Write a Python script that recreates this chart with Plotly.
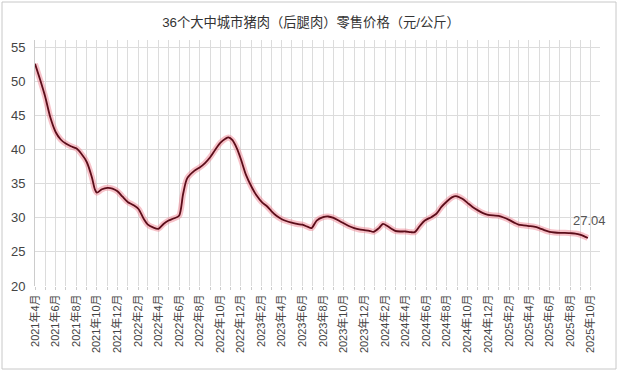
import plotly.graph_objects as go

dates = [
    "2021-04-01", "2021-04-16", "2021-05-01", "2021-05-16", "2021-06-01", "2021-06-16",
    "2021-07-01", "2021-07-16", "2021-08-01", "2021-08-16", "2021-09-01", "2021-09-16",
    "2021-09-25", "2021-10-01", "2021-10-16", "2021-11-01", "2021-11-16", "2021-12-01",
    "2021-12-16", "2022-01-01", "2022-01-16", "2022-02-01", "2022-02-16", "2022-03-01",
    "2022-03-16", "2022-04-01", "2022-04-16", "2022-05-01", "2022-05-16", "2022-06-01",
    "2022-06-13", "2022-06-25", "2022-07-16", "2022-08-01", "2022-08-16", "2022-09-01",
    "2022-09-16", "2022-10-01", "2022-10-16", "2022-10-25", "2022-11-06", "2022-11-19",
    "2022-12-01", "2022-12-16", "2023-01-01", "2023-01-16", "2023-02-01", "2023-02-16",
    "2023-03-01", "2023-03-16", "2023-04-01", "2023-04-16", "2023-05-01", "2023-05-16",
    "2023-06-01", "2023-06-16", "2023-06-28", "2023-07-13", "2023-08-01", "2023-08-16",
    "2023-09-01", "2023-09-16", "2023-10-01", "2023-10-16", "2023-11-01", "2023-11-16",
    "2023-12-01", "2023-12-16", "2023-12-28", "2024-01-13", "2024-01-25", "2024-02-07",
    "2024-02-19", "2024-03-01", "2024-03-16", "2024-04-01", "2024-04-16", "2024-04-28",
    "2024-05-13", "2024-05-28", "2024-06-16", "2024-07-01", "2024-07-16", "2024-08-01",
    "2024-08-16", "2024-08-28", "2024-09-16", "2024-10-01", "2024-10-16", "2024-11-01",
    "2024-11-16", "2024-12-01", "2024-12-16", "2025-01-01", "2025-01-16", "2025-02-01",
    "2025-02-16", "2025-03-01", "2025-03-16", "2025-04-01", "2025-04-16", "2025-05-01",
    "2025-05-16", "2025-06-01", "2025-06-16", "2025-07-01", "2025-07-16", "2025-08-01",
    "2025-08-16", "2025-09-01", "2025-09-13", "2025-09-22",
]
prices = [
    52.6, 50.3, 47.8, 44.8, 42.6, 41.5,
    40.9, 40.5, 40.2, 39.4, 38.2, 36.0,
    34.2, 33.7, 34.2, 34.4, 34.3, 33.9,
    33.1, 32.3, 31.9, 31.3, 29.9, 29.0,
    28.6, 28.4, 29.1, 29.6, 29.9, 30.3,
    33.5, 35.8, 36.9, 37.4, 38.0, 38.9,
    40.0, 41.0, 41.6, 41.8, 41.4, 40.2,
    38.6, 36.3, 34.6, 33.3, 32.3, 31.7,
    31.0, 30.3, 29.8, 29.5, 29.3, 29.1,
    29.0, 28.7, 28.5, 29.6, 30.1, 30.2,
    30.0, 29.6, 29.2, 28.8, 28.5, 28.3,
    28.2, 28.1, 27.95, 28.5, 29.1, 28.8,
    28.4, 28.1, 28.0, 28.0, 27.9, 27.9,
    28.8, 29.6, 30.1, 30.6, 31.6, 32.4,
    33.0, 33.2, 32.8, 32.2, 31.6, 31.1,
    30.7, 30.45, 30.35, 30.3, 30.05, 29.7,
    29.3, 29.0, 28.9, 28.8, 28.7, 28.5,
    28.2, 27.95, 27.85, 27.8, 27.8, 27.75,
    27.7, 27.5, 27.25, 27.04,
]

tick_dates = [
    "2021-04-01", "2021-06-01", "2021-08-01", "2021-10-01", "2021-12-01",
    "2022-02-01", "2022-04-01", "2022-06-01", "2022-08-01", "2022-10-01", "2022-12-01",
    "2023-02-01", "2023-04-01", "2023-06-01", "2023-08-01", "2023-10-01", "2023-12-01",
    "2024-02-01", "2024-04-01", "2024-06-01", "2024-08-01", "2024-10-01", "2024-12-01",
    "2025-02-01", "2025-04-01", "2025-06-01", "2025-08-01", "2025-10-01",
]
tick_labels = [
    "2021年4月", "2021年6月", "2021年8月", "2021年10月", "2021年12月",
    "2022年2月", "2022年4月", "2022年6月", "2022年8月", "2022年10月", "2022年12月",
    "2023年2月", "2023年4月", "2023年6月", "2023年8月", "2023年10月", "2023年12月",
    "2024年2月", "2024年4月", "2024年6月", "2024年8月", "2024年10月", "2024年12月",
    "2025年2月", "2025年4月", "2025年6月", "2025年8月", "2025年10月",
]
y_ticks = [20, 25, 30, 35, 40, 45, 50, 55]

title_text = "36个大中城市猪肉（后腿肉）零售价格（元/公斤）"
FONT = "Arial, 'Liberation Sans', 'Noto Sans CJK SC', sans-serif"

fig = go.Figure()
# pink glow under the line
fig.add_trace(go.Scatter(
    x=dates, y=prices, mode="lines",
    line=dict(color="rgba(238,120,135,0.45)", width=6, shape="spline", smoothing=0.8),
    hoverinfo="skip", showlegend=False,
))
fig.add_trace(go.Scatter(
    x=dates, y=prices, mode="lines",
    line=dict(color="#5c0d1a", width=1.8, shape="spline", smoothing=0.8),
    showlegend=False,
))

fig.add_annotation(
    x=dates[-1], y=prices[-1], text=f"{prices[-1]:.2f}",
    showarrow=False, yshift=18, xshift=2,
    font=dict(family=FONT, size=13, color="#555555"),
)

# outer frame
L, R, T, B = 35, 600, 40, 286
W, H = 622, 371
pw, ph = R - L, B - T
fig.add_shape(
    type="rect", xref="paper", yref="paper",
    x0=(2 - L) / pw, x1=(616 - L) / pw,
    y0=(B - 369) / ph, y1=(B - 2) / ph,
    line=dict(color="#c8c8c8", width=1), fillcolor="rgba(0,0,0,0)", layer="below",
)

fig.update_layout(
    width=W, height=H,
    margin=dict(l=L, r=W - R, t=T, b=H - B),
    paper_bgcolor="white", plot_bgcolor="white",
    title=dict(text=title_text, x=0.5, xanchor="center", y=1 - 22 / H, yanchor="middle",
               font=dict(family=FONT, size=13.3, color="#333333")),
    font=dict(family=FONT, color="#444444"),
)
fig.update_xaxes(
    type="date",
    range=["2021-04-01", "2025-10-28"],
    tickmode="array", tickvals=tick_dates, ticktext=tick_labels,
    tickangle=-90, tickfont=dict(family=FONT, size=11, color="#444444"),
    showgrid=True, gridcolor="#dcdcdc", gridwidth=1,
    ticks="outside", ticklen=3, tickcolor="#cccccc",
    minor=dict(tick0="2021-04-01", dtick="M1", showgrid=True, gridcolor="#dcdcdc",
               ticks="outside", ticklen=3, tickcolor="#cccccc"),
    showline=False, zeroline=False,
)
fig.update_yaxes(
    range=[20, 56.1],
    tickmode="array", tickvals=y_ticks,
    tickfont=dict(family=FONT, size=13, color="#444444"),
    showgrid=True, gridcolor="#dcdcdc", gridwidth=1,
    showline=True, linecolor="#cccccc", linewidth=1,
    ticks="", ticklabelstandoff=6, zeroline=False,
)

fig.write_html("out.html", config={"displayModeBar": False},
               post_script="document.body.style.margin='0px';")
